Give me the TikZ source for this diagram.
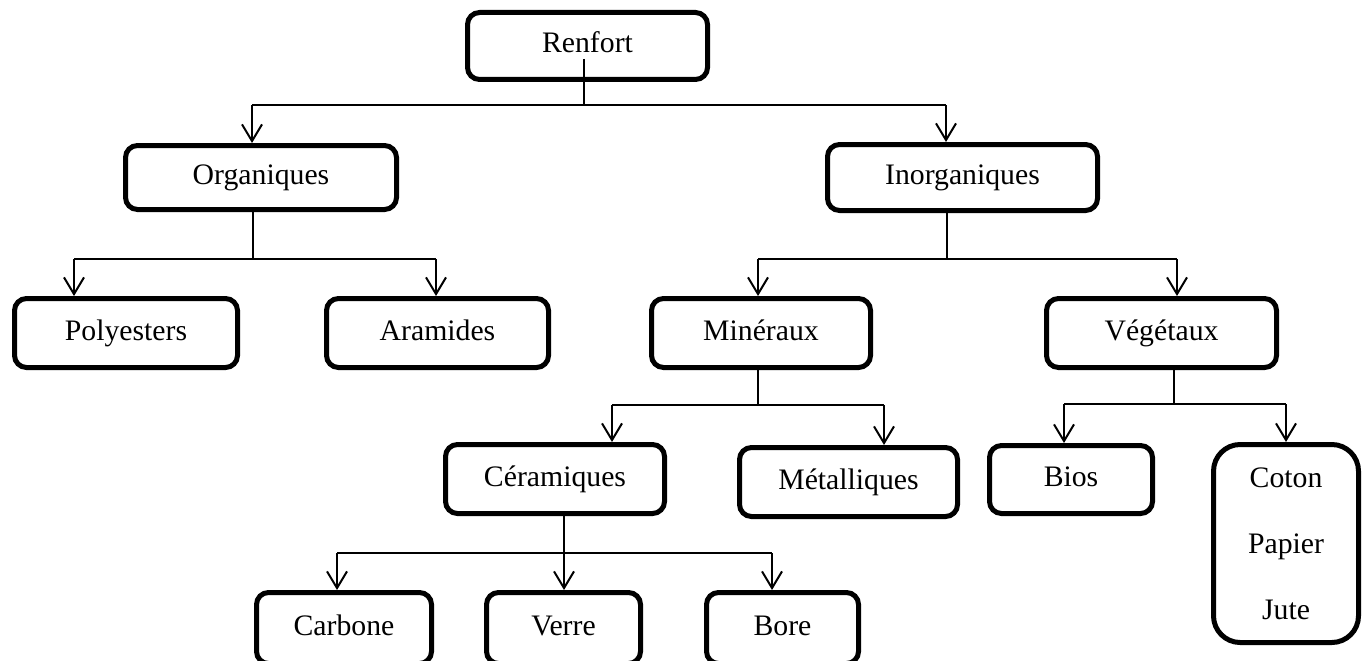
\documentclass[tikz,border=0pt]{standalone}
\usepackage{fontspec}
\setmainfont{Liberation Serif}
\usetikzlibrary{arrows.meta}

\tikzset{
  boxbase/.style={draw=black, line width=3.75pt, rounded corners=9pt, fill=white,
    inner sep=0pt, align=center, font=\fontsize{22.3}{26}\selectfont},
  box/.style={boxbase, text height=15pt, text depth=4.5pt},
  tallbox/.style={boxbase, rounded corners=20pt, font=\fontsize{22.3}{49.5}\selectfont},
  link/.style={draw=black, line width=1.5pt},
  arrowlink/.style={link, -{Straight Barb[length=12.5pt, width=15pt, line width=1.5pt]}}
}

\begin{document}
\begin{tikzpicture}[x=0.75pt, y=-0.75pt]
  \useasboundingbox (0,0) rectangle (1366,660);
  \clip (0,0) rectangle (1366,660);

  % boxes
  \node[box, minimum width=180pt,    minimum height=50.25pt] (renfort) at (587.5,46)   {Renfort};
  \node[box, minimum width=203.25pt, minimum height=48pt]    (organ)   at (261,177.5)  {Organiques};
  \node[box, minimum width=202.5pt,  minimum height=49.5pt]  (inorg)   at (962.5,177.5){Inorganiques};
  \node[box, minimum width=167.25pt, minimum height=51.75pt] (poly)    at (126,333)    {Polyesters};
  \node[box, minimum width=166.5pt,  minimum height=51.75pt] (aram)    at (437.5,333)  {Aramides};
  \node[box, minimum width=164.25pt, minimum height=51.75pt] (miner)   at (761,333)    {Minéraux};
  \node[box, minimum width=172.5pt,  minimum height=51.75pt] (veget)   at (1161.5,333) {Végétaux};
  \node[box, minimum width=164.25pt, minimum height=51.75pt] (ceram)   at (555,479)    {Céramiques};
  \node[box, minimum width=163.5pt,  minimum height=51.75pt] (metal)   at (848.5,482)  {Métalliques};
  \node[box, minimum width=122.25pt, minimum height=51pt]    (bios)    at (1071,479.5) {Bios};
  \node[tallbox, minimum width=108.75pt, minimum height=148.5pt] (coton) at (1286,543.5) {Coton\\Papier\\Jute};
  \node[box, minimum width=131.25pt, minimum height=53.25pt] (carb)    at (344,628)    {Carbone};
  \node[box, minimum width=115.5pt,  minimum height=53.25pt] (verre)   at (563.5,628)  {Verre};
  \node[box, minimum width=114pt,    minimum height=53.25pt] (bore)    at (782.5,628)  {Bore};

  % Renfort -> Organiques / Inorganiques
  \coordinate (r0) at (584,59);
  \coordinate (r1) at (584,105);
  \coordinate (rl) at (252,105);
  \coordinate (rr) at (946,105);
  \draw[link] (r0) -- (r1);
  \draw[link] (rl) -- (rr);
  \draw[arrowlink] (rl) -- (organ.north -| rl);
  \draw[arrowlink] (rr) -- (inorg.north -| rr);

  % Organiques -> Polyesters / Aramides
  \coordinate (o1) at (253,259);
  \coordinate (ol) at (74,259);
  \coordinate (or) at (436,259);
  \draw[link] (organ.south -| o1) -- (o1);
  \draw[link] (ol) -- (or);
  \draw[arrowlink] (ol) -- (poly.north -| ol);
  \draw[arrowlink] (or) -- (aram.north -| or);

  % Inorganiques -> Minéraux / Végétaux
  \coordinate (i1) at (947,259);
  \coordinate (il) at (758,259);
  \coordinate (ir) at (1177,259);
  \draw[link] (inorg.south -| i1) -- (i1);
  \draw[link] (il) -- (ir);
  \draw[arrowlink] (il) -- (miner.north -| il);
  \draw[arrowlink] (ir) -- (veget.north -| ir);

  % Minéraux -> Céramiques / Métalliques
  \coordinate (m1) at (758,405);
  \coordinate (ml) at (612,405);
  \coordinate (mr) at (884,405);
  \draw[link] (miner.south -| m1) -- (m1);
  \draw[link] (ml) -- (mr);
  \draw[arrowlink] (ml) -- (ceram.north -| ml);
  \draw[arrowlink] (mr) -- (metal.north -| mr);

  % Végétaux -> Bios / Coton
  \coordinate (v1) at (1174,404);
  \coordinate (vl) at (1064,404);
  \coordinate (vr) at (1286,404);
  \draw[link] (veget.south -| v1) -- (v1);
  \draw[link] (vl) -- (vr);
  \draw[arrowlink] (vl) -- (bios.north -| vl);
  \draw[arrowlink] (vr) -- (coton.north -| vr);

  % Céramiques -> Carbone / Verre / Bore
  \coordinate (c1) at (564,553);
  \coordinate (cl) at (337,553);
  \coordinate (cr) at (772,553);
  \draw[link] (ceram.south -| c1) -- (c1);
  \draw[link] (cl) -- (cr);
  \draw[arrowlink] (cl) -- (carb.north -| cl);
  \draw[arrowlink] (c1) -- (verre.north -| c1);
  \draw[arrowlink] (cr) -- (bore.north -| cr);
\end{tikzpicture}
\end{document}
